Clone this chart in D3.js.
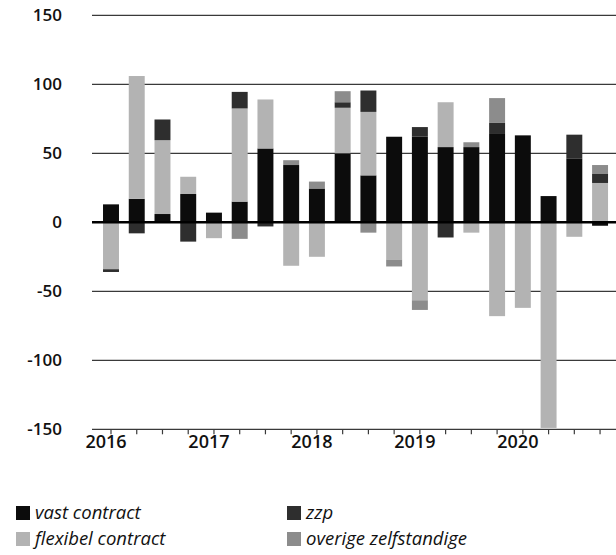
<!DOCTYPE html>
<html>
<head>
<meta charset="utf-8">
<script src="https://cdn.jsdelivr.net/npm/d3@7/dist/d3.min.js"></script>
<style>
  html, body { margin: 0; padding: 0; background: #fff; }
  svg { display: block; }
  text { font-family: "Open Sans", "Noto Sans", sans-serif; fill: #111; }
</style>
</head>
<body>
<svg id="chart" width="616" height="555"></svg>
<script>
// Quarterly change in jobs (x 1 000), 2016 Q1 – 2020 Q4
const quarters = [
  "2016-1","2016-2","2016-3","2016-4",
  "2017-1","2017-2","2017-3","2017-4",
  "2018-1","2018-2","2018-3","2018-4",
  "2019-1","2019-2","2019-3","2019-4",
  "2020-1","2020-2","2020-3","2020-4"
];
const vastContract     = [13, 17, 6, 20.5, 7, 15, 53.5, 41.5, 24.5, 50, 34, 62, 62, 54.5, 54.5, 64, 63, 19, 46, -2.5];
const flexibelContract = [-34, 89, 53.5, 12.5, -11.5, 67.5, 35.5, -31.5, -25, 33, 46, -27, -56.5, 32.5, -7.5, -68, -62, -149, -10.5, 28.5];
const zzp              = [-2, -8, 15, -14, 0, 12, -3, 0, 0, 4, 15.5, 0, 7, -11, 0, 8, 0, 0, 17.5, 6.5];
const overigeZelfst    = [0, 0, 0, 0, 0, -12, 0, 3.5, 5, 8, -7.5, -5, -7, 0, 3.5, 18, 0, 0, 0, 6.5];

const years = ["2016", "2017", "2018", "2019", "2020"];
const yTicks = [150, 100, 50, 0, -50, -100, -150];

const seriesKeys   = ["vast", "flexibel", "zzp", "overige"];
const seriesLabels = ["vast contract", "flexibel contract", "zzp", "overige zelfstandige"];
const seriesColors = ["#0c0c0c", "#b3b3b3", "#2e2e2e", "#8c8c8c"];

const rows = quarters.map((q, i) => ({
  q,
  vast: vastContract[i],
  flexibel: flexibelContract[i],
  zzp: zzp[i],
  overige: overigeZelfst[i]
}));

const svg = d3.select("#chart");
const plotLeft = 92, plotRight = 616;

const y = d3.scaleLinear().domain([-150, 150]).range([429.3, 15.3]);

const step = 25.74;
const x = d3.scaleBand()
  .domain(quarters)
  .range([111 - step / 2, 111 + step * 19.5])
  .paddingInner(0.38)
  .paddingOuter(0.19);

// gridlines
svg.append("g")
  .selectAll("line")
  .data(yTicks.filter(d => d !== 0))
  .join("line")
  .attr("x1", plotLeft).attr("x2", plotRight)
  .attr("y1", d => y(d)).attr("y2", d => y(d))
  .attr("stroke", "#3a3a3a")
  .attr("stroke-width", 1.3);

// y labels
svg.append("g")
  .selectAll("text")
  .data(yTicks)
  .join("text")
  .attr("x", 62)
  .attr("y", d => y(d))
  .attr("dy", "0.35em")
  .attr("text-anchor", "end")
  .style("font-size", "17px")
  .style("font-weight", 600)
  .text(d => d < 0 ? "-" + Math.abs(d) : d);

// stacked bars
const stack = d3.stack().keys(seriesKeys).offset(d3.stackOffsetDiverging);
const layers = stack(rows);

svg.append("g")
  .selectAll("g")
  .data(layers)
  .join("g")
  .attr("fill", (d, i) => seriesColors[i])
  .selectAll("rect")
  .data(d => d.filter(p => p[1] !== p[0]))
  .join("rect")
  .attr("x", d => x(d.data.q))
  .attr("width", x.bandwidth())
  .attr("y", d => y(Math.max(d[0], d[1])))
  .attr("height", d => Math.abs(y(d[0]) - y(d[1])));

// zero line
svg.append("line")
  .attr("x1", plotLeft).attr("x2", plotRight)
  .attr("y1", y(0)).attr("y2", y(0))
  .attr("stroke", "#000")
  .attr("stroke-width", 2.6);

// quarter ticks along the bottom
svg.append("g")
  .selectAll("line")
  .data(quarters)
  .join("line")
  .attr("x1", d => x(d) + x.bandwidth() / 2)
  .attr("x2", d => x(d) + x.bandwidth() / 2)
  .attr("y1", y(-150))
  .attr("y2", y(-150) + 5)
  .attr("stroke", "#3a3a3a")
  .attr("stroke-width", 1.2);

// year labels under the first quarter of each year
svg.append("g")
  .selectAll("text")
  .data(years)
  .join("text")
  .attr("x", d => x(d + "-1") + x.bandwidth() / 2 - 5)
  .attr("y", 448)
  .attr("text-anchor", "middle")
  .style("font-size", "18px")
  .style("font-weight", 600)
  .text(d => d);

// legend in two columns
const legendItems = [
  { k: 0, col: 0, row: 0 },
  { k: 2, col: 1, row: 0 },
  { k: 1, col: 0, row: 1 },
  { k: 3, col: 1, row: 1 }
];
const lg = svg.append("g")
  .selectAll("g")
  .data(legendItems)
  .join("g")
  .attr("transform", d => `translate(${d.col ? 287 : 16},${d.row ? 532 : 506})`);
lg.append("rect")
  .attr("width", 14).attr("height", 14)
  .attr("fill", d => seriesColors[d.k]);
lg.append("text")
  .attr("x", 19)
  .attr("y", 13)
  .style("font-size", "18.5px")
  .style("font-style", "italic")
  .text(d => seriesLabels[d.k]);
</script>
</body>
</html>
